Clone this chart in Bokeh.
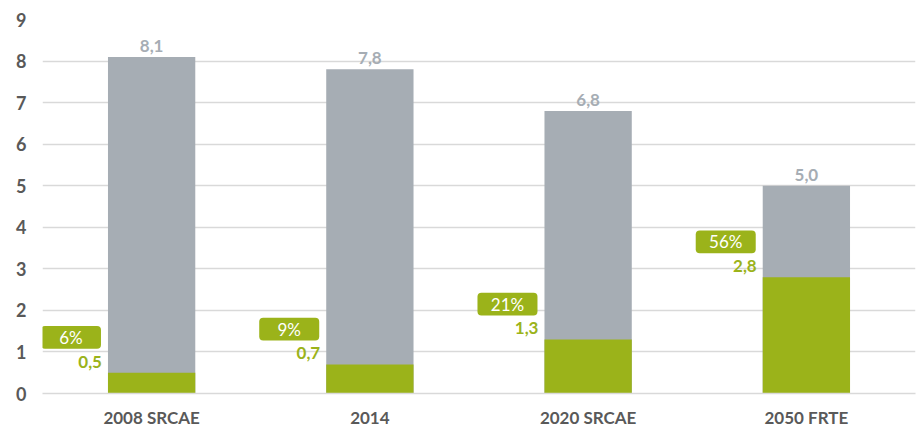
import numpy as np
from bokeh.plotting import figure
from bokeh.models import Range1d, FixedTicker, ColumnDataSource
from bokeh.core.properties import value
from bokeh.embed import file_html
from bokeh.resources import INLINE

categories = ["2008 SRCAE", "2014", "2020 SRCAE", "2050 FRTE"]
totals = [8.1, 7.8, 6.8, 5.0]
green_part = [0.5, 0.7, 1.3, 2.8]
shares = ["6%", "9%", "21%", "56%"]
y_ticks = [0, 1, 2, 3, 4, 5, 6, 7, 8, 9]

GREY = "#A6ADB4"
GREEN = "#9BB31A"
TXT = "#595959"
FONT = "Lato"

def fmt(v):
    return f"{v:.1f}".replace(".", ",")

W, H = 917, 430
L, R, T, B = 42, 2, 19, 35
px_x = (W - L - R) / len(categories)   # pixels per x unit
px_y = (H - T - B) / 9.0               # pixels per y unit

centers = np.arange(len(categories)) + 0.5
bw = 0.4
src = ColumnDataSource(dict(
    x=centers,
    total=totals,
    green=green_part,
    total_lbl=[fmt(v) for v in totals],
    green_lbl=[fmt(v) for v in green_part],
    share=shares,
    lbl_x=centers - bw / 2 - 6 / px_x,
    box_l=centers - bw / 2 - 67 / px_x,
    box_r=centers - bw / 2 - 7 / px_x,
    box_b=np.array(green_part) + 0.85 - 11.5 / px_y,
    box_t=np.array(green_part) + 0.85 + 11.5 / px_y,
    box_c=centers - bw / 2 - 37 / px_x,
    box_y=np.array(green_part) + 0.85,
))

p = figure(width=W, height=H, x_range=Range1d(0, 4), y_range=Range1d(0, 9),
           output_backend="svg", toolbar_location=None,
           min_border_left=L, min_border_right=R, min_border_top=T, min_border_bottom=B)
p.outline_line_color = None
p.background_fill_color = "white"
p.xgrid.grid_line_color = None
p.ygrid.grid_line_color = "#D9D9D9"
p.ygrid.grid_line_width = 1.5
p.ygrid.ticker = FixedTicker(ticks=y_ticks)

p.vbar(x="x", top="total", width=bw, bottom=0, source=src, fill_color=GREY, line_color=None)
p.vbar(x="x", top="green", width=bw, bottom=0, source=src, fill_color=GREEN, line_color=None)

p.text(x="x", y="total", text="total_lbl", source=src, text_align="center",
       text_baseline="bottom", y_offset=-5, text_color=GREY, text_font=value(FONT),
       text_font_size="17px", text_font_style="bold")

p.quad(left="box_l", right="box_r", bottom="box_b", top="box_t", source=src,
       fill_color=GREEN, line_color=None, border_radius=4)
p.text(x="box_c", y="box_y", text="share", source=src, text_align="center",
       text_baseline="middle", text_color="white", text_font=value(FONT),
       text_font_size="17px")

p.text(x="lbl_x", y="green", text="green_lbl", source=src, text_align="right",
       text_baseline="middle", y_offset=-11, text_color=GREEN, text_font=value(FONT),
       text_font_size="17px", text_font_style="bold")

p.yaxis.ticker = FixedTicker(ticks=y_ticks)
p.yaxis.axis_line_color = None
p.yaxis.major_tick_line_color = None
p.yaxis.minor_tick_line_color = None
p.yaxis.major_tick_out = 0
p.yaxis.major_label_standoff = 16
p.yaxis.major_label_text_font = FONT
p.yaxis.major_label_text_font_size = "18px"
p.yaxis.major_label_text_font_style = "bold"
p.yaxis.major_label_text_color = TXT

p.xaxis.ticker = FixedTicker(ticks=list(centers))
p.xaxis.major_label_overrides = {float(c): n for c, n in zip(centers, categories)}
p.xaxis.axis_line_color = "#D9D9D9"
p.xaxis.axis_line_width = 1.5
p.xaxis.major_tick_line_color = None
p.xaxis.minor_tick_line_color = None
p.xaxis.major_tick_out = 0
p.xaxis.major_label_standoff = 13
p.xaxis.major_label_text_font = FONT
p.xaxis.major_label_text_font_size = "17px"
p.xaxis.major_label_text_font_style = "bold"
p.xaxis.major_label_text_color = TXT

open("out.html", "w").write(file_html(p, INLINE))
